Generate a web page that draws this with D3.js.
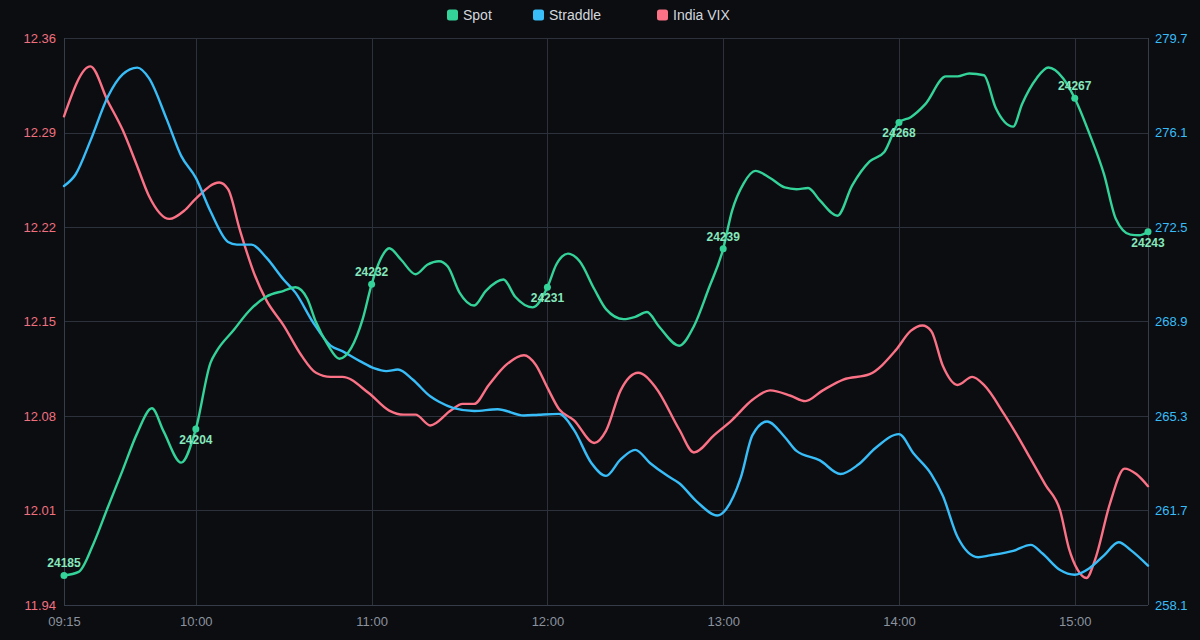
<!DOCTYPE html>
<html><head><meta charset="utf-8">
<script src="https://cdn.jsdelivr.net/npm/d3@7"></script>
<style>html,body{margin:0;background:#0b0d11;}svg{display:block}</style>
</head><body><svg id="c" width="1200" height="640"></svg>
<script>
// ---- data ----
const seriesNames = ["Spot", "Straddle", "India VIX"];
const xTickLabels = ["09:15","10:00","11:00","12:00","13:00","14:00","15:00"];
const xDomainLabels = ["09:15","15:25"];
const vixTicks = [11.94, 12.01, 12.08, 12.15, 12.22, 12.29, 12.36];
const straddleTicks = [258.1, 261.7, 265.3, 268.9, 272.5, 276.1, 279.7];
const spotDomain = [24180, 24276];

const spotSeries = [["09:15",24185.0],["09:20",24185.6],["09:25",24190.3],["09:30",24196.6],["09:35",24202.8],["09:40",24209.1],["09:45",24213.3],["09:49",24209.4],["09:55",24204.1],["10:00",24209.8],["10:05",24221.0],["10:07",24222.9],["10:13",24226.6],["10:18",24229.7],["10:24",24232.2],["10:30",24233.2],["10:34",24233.8],["10:38",24231.9],["10:41",24227.9],["10:45",24224.1],["10:49",24221.7],["10:53",24223.5],["10:57",24228.5],["11:00",24234.3],["11:03",24238.5],["11:06",24240.4],["11:10",24238.5],["11:15",24236.0],["11:19",24237.6],["11:23",24238.2],["11:26",24237.3],["11:30",24232.9],["11:35",24230.7],["11:39",24233.2],["11:45",24235.1],["11:49",24232.2],["11:55",24230.4],["12:00",24233.8],["12:03",24237.6],["12:07",24239.5],["12:11",24238.2],["12:16",24233.5],["12:20",24230.1],["12:26",24228.4],["12:30",24228.8],["12:34",24229.6],["12:38",24227.2],["12:45",24223.9],["12:50",24227.2],["12:55",24233.5],["13:00",24240.3],["13:03",24246.7],["13:07",24251.4],["13:11",24253.5],["13:16",24252.3],["13:21",24250.7],["13:25",24250.4],["13:29",24250.6],["13:33",24248.5],["13:39",24245.9],["13:44",24251.0],["13:50",24255.1],["13:55",24256.7],["14:00",24261.7],["14:04",24262.6],["14:09",24264.8],["14:16",24269.5],["14:20",24269.5],["14:24",24270.0],["14:29",24269.7],["14:33",24264.2],["14:39",24261.0],["14:42",24264.8],["14:47",24269.2],["14:51",24271.0],["14:56",24269.2],["15:00",24265.8],["15:05",24259.8],["15:10",24252.9],["15:14",24245.4],["15:19",24242.7],["15:22",24242.6],["15:25",24243.2]];

const straddleSeries = [["09:15",274.06],["09:19",274.51],["09:24",275.78],["09:30",277.47],["09:35",278.31],["09:40",278.57],["09:44",278.17],["09:50",276.62],["09:55",275.21],["10:00",274.37],["10:05",273.10],["10:11",271.93],["10:14",271.83],["10:19",271.83],["10:24",271.34],["10:30",270.49],["10:34",270.00],["10:40",268.87],["10:46",267.98],["10:50",267.77],["10:56",267.39],["11:01",267.11],["11:05",267.01],["11:09",267.07],["11:14",266.69],["11:20",266.05],["11:23",265.84],["11:28",265.60],["11:35",265.49],["11:43",265.56],["11:52",265.32],["11:57",265.35],["12:04",265.38],["12:09",264.78],["12:15",263.51],["12:20",263.02],["12:25",263.65],["12:30",264.01],["12:35",263.51],["12:41",263.02],["12:45",262.74],["12:51",262.04],["12:58",261.51],["13:01",261.75],["13:06",262.95],["13:10",264.57],["13:15",265.09],["13:21",264.50],["13:25",263.97],["13:33",263.61],["13:40",263.09],["13:46",263.44],["13:52",264.08],["14:00",264.61],["14:05",263.87],["14:11",263.09],["14:15",262.25],["14:20",260.69],["14:27",259.92],["14:31",259.99],["14:39",260.16],["14:45",260.39],["14:49",260.06],["14:55",259.43],["15:00",259.25],["15:05",259.50],["15:10",259.99],["15:15",260.49],["15:19",260.20],["15:25",259.60]];

const vixSeries = [["09:15",12.302],["09:24",12.339],["09:30",12.313],["09:35",12.292],["09:40",12.265],["09:44",12.243],["09:51",12.226],["09:56",12.232],["10:00",12.241],["10:08",12.253],["10:11",12.248],["10:15",12.218],["10:20",12.185],["10:24",12.166],["10:30",12.147],["10:36",12.125],["10:41",12.112],["10:46",12.109],["10:50",12.109],["10:59",12.097],["11:06",12.084],["11:11",12.081],["11:15",12.081],["11:20",12.073],["11:27",12.084],["11:31",12.089],["11:35",12.089],["11:40",12.103],["11:46",12.118],["11:52",12.125],["11:56",12.118],["12:00",12.101],["12:04",12.085],["12:09",12.077],["12:16",12.060],["12:20",12.069],["12:25",12.099],["12:31",12.112],["12:37",12.101],["12:45",12.070],["12:50",12.053],["12:57",12.066],["13:03",12.077],["13:10",12.092],["13:16",12.099],["13:23",12.095],["13:28",12.091],["13:34",12.099],["13:41",12.107],["13:50",12.111],["13:59",12.129],["14:04",12.143],["14:08",12.147],["14:11",12.143],["14:15",12.117],["14:20",12.103],["14:25",12.109],["14:29",12.103],["14:36",12.081],["14:40",12.067],["14:45",12.048],["14:50",12.029],["14:55",12.010],["14:58",11.982],["15:01",11.966],["15:04",11.960],["15:07",11.974],["15:12",12.015],["15:17",12.041],["15:21",12.037],["15:25",12.028]];

const spotMarkTimes = ["09:15","10:00","11:00","12:00","13:00","14:00","15:00","15:25"];
const spotMarkLabels = ["24185","24204","24232","24231","24239","24268","24267","24243"];

// ---- drawing ----
const W = 1200, H = 640;
const m = {l: 64, r: 52, t: 38, b: 35};
const parse = d3.timeParse("%H:%M");
const colors = {spot: "#34d399", straddle: "#38bdf8", vix: "#fb7185"};
const font = "'Liberation Sans', Arial, Helvetica, sans-serif";

const svg = d3.select("#c");
svg.append("rect").attr("width", W).attr("height", H).attr("fill", "#0b0d11");

const x = d3.scaleTime().domain(xDomainLabels.map(parse)).range([m.l, W - m.r]);
const yV = d3.scaleLinear().domain([vixTicks[0], vixTicks[vixTicks.length-1]]).range([H - m.b, m.t]);
const yS = d3.scaleLinear().domain([straddleTicks[0], straddleTicks[straddleTicks.length-1]]).range([H - m.b, m.t]);
const yP = d3.scaleLinear().domain(spotDomain).range([H - m.b, m.t]);

const gridColor = "#2c313c";
svg.append("g").selectAll("line").data(vixTicks).join("line")
  .attr("x1", m.l).attr("x2", W - m.r)
  .attr("y1", d => Math.round(yV(d)) + 0.5).attr("y2", d => Math.round(yV(d)) + 0.5)
  .attr("stroke", gridColor).attr("stroke-width", 1);
const xt = xTickLabels.map(parse);
svg.append("g").selectAll("line").data(xt.concat([parse(xDomainLabels[1])])).join("line")
  .attr("x1", d => Math.round(x(d)) + 0.5).attr("x2", d => Math.round(x(d)) + 0.5)
  .attr("y1", m.t).attr("y2", H - m.b)
  .attr("stroke", gridColor).attr("stroke-width", 1);
svg.append("line").attr("x1", m.l + 0.5).attr("x2", m.l + 0.5).attr("y1", m.t).attr("y2", H - m.b).attr("stroke", "#363c49");
svg.append("line").attr("x1", W - m.r + 0.5).attr("x2", W - m.r + 0.5).attr("y1", m.t).attr("y2", H - m.b).attr("stroke", "#363c49");
svg.append("line").attr("x1", m.l).attr("x2", W - m.r).attr("y1", H - m.b + 0.5).attr("y2", H - m.b + 0.5).attr("stroke", "#363c49");

const axL = svg.append("g").attr("transform", `translate(${m.l},0)`)
  .call(d3.axisLeft(yV).tickValues(vixTicks).tickFormat(d3.format(".2f")).tickSize(0).tickPadding(8));
axL.select(".domain").remove();
axL.selectAll("text").attr("fill", "#f0707f").style("font", `13px ${font}`);
const axR = svg.append("g").attr("transform", `translate(${W - m.r},0)`)
  .call(d3.axisRight(yS).tickValues(straddleTicks).tickFormat(d3.format(".1f")).tickSize(0).tickPadding(7));
axR.select(".domain").remove();
axR.selectAll("text").attr("fill", "#38bdf8").style("font", `13px ${font}`);
const axB = svg.append("g").attr("transform", `translate(0,${H - m.b})`)
  .call(d3.axisBottom(x).tickValues(xt).tickFormat(d3.timeFormat("%H:%M")).tickSize(0).tickPadding(12));
axB.select(".domain").remove();
axB.selectAll("text").attr("fill", "#8b929e").style("font", `13px ${font}`);

const toPts = s => s.map(([t, v]) => ({t: parse(t), v}));
function drawLine(series, yScale, color) {
  const line = d3.line().x(d => x(d.t)).y(d => yScale(d.v)).curve(d3.curveMonotoneX);
  svg.append("path").datum(toPts(series)).attr("d", line)
    .attr("fill", "none").attr("stroke", color).attr("stroke-width", 2.4)
    .attr("stroke-linejoin", "round").attr("stroke-linecap", "round");
}
drawLine(vixSeries, yV, colors.vix);
drawLine(straddleSeries, yS, colors.straddle);
drawLine(spotSeries, yP, colors.spot);

const spotMap = new Map(spotSeries);
const marks = spotMarkTimes.map((t, i) => ({t: parse(t), v: spotMap.get(t), label: spotMarkLabels[i], i}));
svg.append("g").selectAll("circle").data(marks).join("circle")
  .attr("cx", d => x(d.t)).attr("cy", d => yP(d.v)).attr("r", 3.5).attr("fill", colors.spot);
svg.append("g").selectAll("text").data(marks).join("text")
  .attr("x", d => x(d.t)).attr("y", d => yP(d.v) + (d.i % 2 === 0 ? -8 : 15))
  .attr("text-anchor", "middle").attr("fill", "#86e8bd")
  .style("font", `bold 12px ${font}`).text(d => d.label);

const legendColors = [colors.spot, colors.straddle, colors.vix];
const legendX = [447, 533, 657];
const lg = svg.append("g").selectAll("g").data(seriesNames).join("g")
  .attr("transform", (d, i) => `translate(${legendX[i]},15)`);
lg.append("rect").attr("x", 0).attr("y", -5.5).attr("width", 11).attr("height", 11).attr("rx", 2.5)
  .attr("fill", (d, i) => legendColors[i]);
lg.append("text").attr("x", 16).attr("y", 0).attr("dy", "0.35em").attr("fill", "#d4d7dd")
  .style("font", `14px ${font}`).text(d => d);
</script>
</body></html>
